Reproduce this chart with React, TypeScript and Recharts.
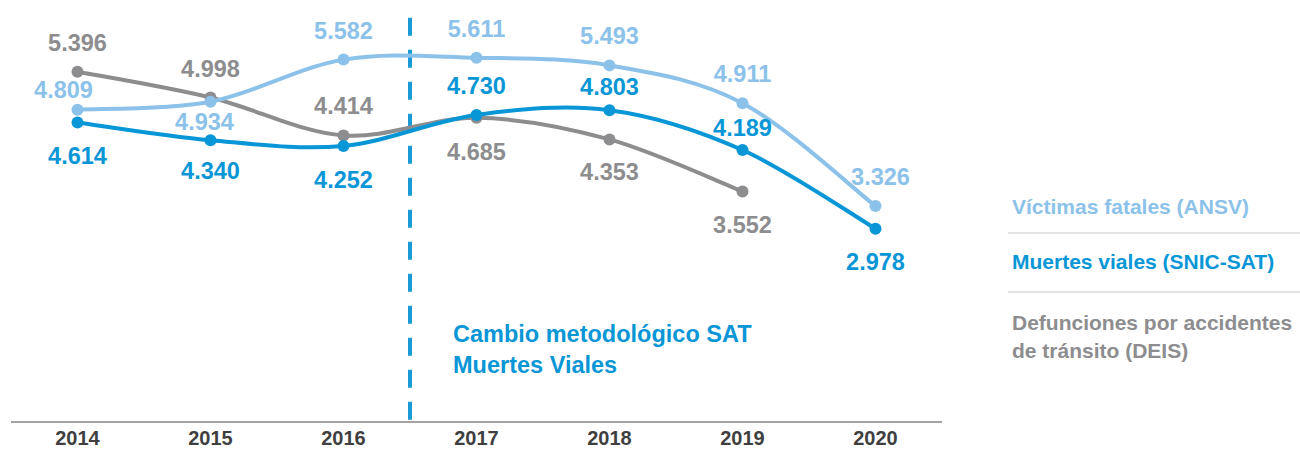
import React from 'react';
import { LineChart, Line, XAxis, YAxis, ReferenceLine } from 'recharts';

const years = [2014, 2015, 2016, 2017, 2018, 2019, 2020];
const victimasAnsv = [4809, 4934, 5582, 5611, 5493, 4911, 3326];
const muertesSnic = [4614, 4340, 4252, 4730, 4803, 4189, 2978];
const defuncionesDeis = [5396, 4998, 4414, 4685, 4353, 3552, null];

// label offsets (px) relative to each point
const ansvLabelDy = [-20, 20, -29, -29, -29, -29, -29];
const snicLabelDy = [34, 31, 34, -29, -23, -22, 33];
const deisLabelDy = [-29, -29, -29, 34, 33, 34, 0];
const ansvLabelDx = [-14, -6, 0, 0, 0, 0, 5];

const LIGHT = '#8cc2ea';
const BLUE = '#0896d6';
const GREY = '#8d8d8f';
const FONT = '"Liberation Sans", Arial, sans-serif';

const data = years.map((year, i) => ({
  year,
  ansv: victimasAnsv[i],
  snic: muertesSnic[i],
  deis: defuncionesDeis[i],
}));

const fmt = (v: number) => `${Math.floor(v / 1000)}.${String(v % 1000).padStart(3, '0')}`;

// Catmull-Rom style smoothing, close to what spreadsheet "smoothed line" draws
class SmoothCurve {
  ctx: any;
  pts: number[][] = [];
  constructor(ctx: any) { this.ctx = ctx; }
  areaStart() {}
  areaEnd() {}
  lineStart() { this.pts = []; }
  point(x: number, y: number) { this.pts.push([+x, +y]); }
  lineEnd() {
    const p = this.pts;
    if (!p.length) return;
    this.ctx.moveTo(p[0][0], p[0][1]);
    for (let i = 0; i < p.length - 1; i++) {
      const p0 = p[i - 1] || p[i];
      const p1 = p[i];
      const p2 = p[i + 1];
      const p3 = p[i + 2] || p2;
      this.ctx.bezierCurveTo(
        p1[0] + (p2[0] - p0[0]) / 6, p1[1] + (p2[1] - p0[1]) / 6,
        p2[0] - (p3[0] - p1[0]) / 6, p2[1] - (p3[1] - p1[1]) / 6,
        p2[0], p2[1]
      );
    }
  }
}
const smooth: any = (ctx: any) => new SmoothCurve(ctx);

const makeLabel = (color: string, dyArr: number[], dxArr?: number[]) => (props: any) => {
  const { x, y, value, index } = props;
  if (value == null) return null;
  return (
    <text
      key={index}
      x={x + (dxArr ? dxArr[index] : 0)}
      y={y + dyArr[index]}
      textAnchor="middle"
      dominantBaseline="central"
      fill={color}
      fontSize={23.5}
      fontWeight="bold"
      fontFamily={FONT}
    >
      {fmt(value)}
    </text>
  );
};

const legendItem = (top: number, color: string, lines: string[]) => (
  <div
    style={{
      position: 'absolute',
      left: 1012,
      top,
      color,
      fontFamily: FONT,
      fontWeight: 'bold',
      fontSize: 21,
      lineHeight: '28px',
      whiteSpace: 'nowrap',
    }}
  >
    {lines.map((l) => (
      <div key={l}>{l}</div>
    ))}
  </div>
);

export default function App() {
  return (
    <div style={{ position: 'absolute', left: 0, top: 0, width: 1300, height: 450, background: '#fff', overflow: 'hidden' }}>
      <LineChart width={960} height={450} data={data} margin={{ top: 0, right: 18, left: 11, bottom: 0 }}>
        <XAxis
          dataKey="year"
          type="number"
          domain={[2013.5, 2020.5]}
          ticks={years}
          tickLine={false}
          axisLine={{ stroke: '#a3a3a3', strokeWidth: 2 }}
          tickMargin={3}
          height={28}
          tick={{ fill: '#3f3f3f', fontSize: 20, fontWeight: 'bold', fontFamily: FONT }}
        />
        <YAxis hide domain={[0, 6500]} />
        <ReferenceLine
          segment={[{ x: 2016.5, y: 6226 }, { x: 2016.5, y: 0 }]}
          stroke="#1a9ad6"
          strokeWidth={4}
          strokeDasharray="18 14"
        />
        <Line
          dataKey="deis"
          type={smooth}
          stroke={GREY}
          strokeWidth={4}
          dot={{ r: 6, fill: GREY, stroke: 'none' }}
          label={makeLabel(GREY, deisLabelDy)}
          isAnimationActive={false}
        />
        <Line
          dataKey="ansv"
          type={smooth}
          stroke={LIGHT}
          strokeWidth={4}
          dot={{ r: 6, fill: LIGHT, stroke: 'none' }}
          label={makeLabel(LIGHT, ansvLabelDy, ansvLabelDx)}
          isAnimationActive={false}
        />
        <Line
          dataKey="snic"
          type={smooth}
          stroke={BLUE}
          strokeWidth={4}
          dot={{ r: 6, fill: BLUE, stroke: 'none' }}
          label={makeLabel(BLUE, snicLabelDy)}
          isAnimationActive={false}
        />
      </LineChart>

      <div
        style={{
          position: 'absolute',
          left: 453,
          top: 319,
          color: BLUE,
          fontFamily: FONT,
          fontWeight: 'bold',
          fontSize: 23.5,
          lineHeight: '31px',
        }}
      >
        <div>Cambio metodológico SAT</div>
        <div>Muertes Viales</div>
      </div>

      {legendItem(193, LIGHT, ['Víctimas fatales (ANSV)'])}
      <div style={{ position: 'absolute', left: 1008, top: 232, width: 292, height: 2, background: '#e3e3e3' }} />
      {legendItem(248, BLUE, ['Muertes viales (SNIC-SAT)'])}
      <div style={{ position: 'absolute', left: 1008, top: 291, width: 292, height: 2, background: '#e3e3e3' }} />
      {legendItem(309, GREY, ['Defunciones por accidentes', 'de tránsito (DEIS)'])}
    </div>
  );
}
